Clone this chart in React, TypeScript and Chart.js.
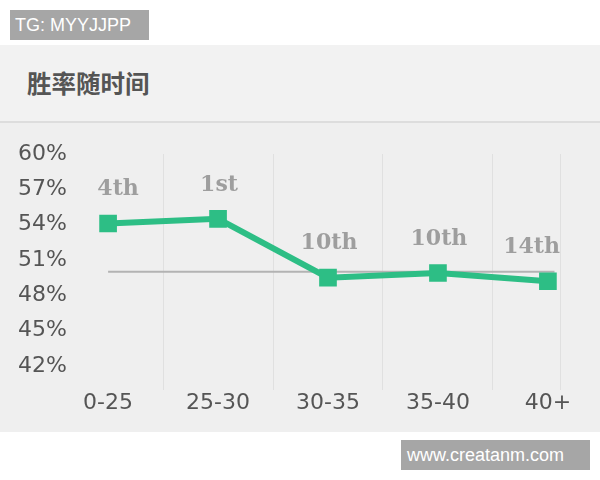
import { useEffect, useRef } from "react"
import { Chart, registerables } from "chart.js"

Chart.register(...registerables)

const categories = ["0-25", "25-30", "30-35", "35-40", "40+"]
const winRates = [54.1, 54.5, 49.5, 49.9, 49.2]
const rankLabels = ["4th", "1st", "10th", "10th", "14th"]
const yTicks = [42, 45, 48, 51, 54, 57, 60]
const refValue = 50
const refSpan = [0, 4.06]
const xGridAt = [0.5, 1.5, 2.5, 3.5]

const GREEN = "#2dbe85"

// draws the rank text above each point
const rankPlugin = {
  id: "rankLabels",
  afterDatasetsDraw(chart: Chart) {
    const meta = chart.getDatasetMeta(0)
    const ctx = chart.ctx
    const area = chart.chartArea
    ctx.save()
    ctx.font = "bold 22px 'DejaVu Serif'"
    ctx.fillStyle = "#9e9e9e"
    ctx.textAlign = "center"
    ctx.textBaseline = "middle"
    meta.data.forEach((pt, i) => {
      const text = rankLabels[i]
      const w = ctx.measureText(text).width
      const x = Math.min(pt.x + (i === 0 ? 10 : 1), area.right - w / 2)
      ctx.fillText(text, x, pt.y - 34)
    })
    ctx.restore()
  },
}

function WinRateChart() {
  const chartRef = useRef<HTMLCanvasElement>(null)
  const chartInstance = useRef<Chart | null>(null)

  useEffect(() => {
    if (!chartRef.current) return
    if (chartInstance.current) chartInstance.current.destroy()

    const ctx = chartRef.current.getContext("2d")
    if (!ctx) return

    chartInstance.current = new Chart(ctx, {
      type: "line",
      data: {
        datasets: [
          {
            label: "胜率",
            data: winRates.map((v, i) => ({ x: i, y: v })),
            borderColor: GREEN,
            backgroundColor: GREEN,
            borderWidth: 6,
            pointStyle: "rect",
            pointRadius: 12.5,
            pointBorderWidth: 0,
            tension: 0,
            order: 1,
          },
          {
            label: "avg",
            data: refSpan.map((x) => ({ x, y: refValue })),
            borderColor: "#b3b3b3",
            borderWidth: 2,
            pointRadius: 0,
            order: 2,
          },
        ],
      },
      options: {
        responsive: false,
        animation: false,
        layout: { padding: { top: 31, left: 17, right: 40, bottom: 16 } },
        plugins: {
          legend: { display: false },
          tooltip: { enabled: false },
        },
        scales: {
          x: {
            type: "linear",
            min: -0.31,
            max: 4.11,
            afterBuildTicks: (scale) => {
              const vals = [...categories.map((_, i) => i), ...xGridAt, 4.11].sort((a, b) => a - b)
              scale.ticks = vals.map((value) => ({ value }))
            },
            grid: {
              display: true,
              drawTicks: false,
              lineWidth: 1,
              color: (c) => (Number.isInteger(c.tick?.value) ? "transparent" : "#e0e0e0"),
            },
            border: { display: false },
            ticks: {
              autoSkip: false,
              maxRotation: 0,
              padding: 0,
              color: "#555",
              font: { family: "'DejaVu Sans'", size: 22 },
              callback: (value) => {
                const v = Number(value)
                return Number.isInteger(v) ? categories[v] : ""
              },
            },
          },
          y: {
            min: 40,
            max: 60,
            afterBuildTicks: (scale) => {
              scale.ticks = yTicks.map((value) => ({ value }))
            },
            afterFit: (scale) => {
              scale.width = 57
            },
            grid: { display: false, drawTicks: false },
            border: { display: false },
            ticks: {
              padding: 7,
              color: "#555",
              font: { family: "'DejaVu Sans'", size: 22 },
              callback: (value) => `${value}%`,
            },
          },
        },
      },
      plugins: [rankPlugin],
    })

    return () => {
      if (chartInstance.current) {
        chartInstance.current.destroy()
        chartInstance.current = null
      }
    }
  }, [])

  return <canvas ref={chartRef} width={600} height={309} style={{ display: "block" }} />
}

export default function App() {
  return (
    <div
      style={{
        position: "fixed",
        top: 0,
        left: 0,
        width: 600,
        height: 480,
        background: "#fff",
        overflow: "hidden",
      }}
    >
      <div
        style={{
          position: "absolute",
          left: 10,
          top: 10,
          width: 139,
          height: 30,
          background: "#a6a6a6",
          color: "#fff",
          font: "18px 'Liberation Sans', Arial, sans-serif",
          lineHeight: "30px",
          paddingLeft: 5,
          boxSizing: "border-box",
        }}
      >
        TG: MYYJJPP
      </div>
      <div
        style={{
          position: "absolute",
          left: 0,
          top: 45,
          width: 600,
          height: 76,
          background: "#f2f2f2",
          borderBottom: "2px solid #dddddd",
        }}
      >
        <div
          style={{
            position: "absolute",
            left: 27,
            top: 23,
            font: "bold 24.5px 'Noto Sans CJK SC', sans-serif",
            color: "#555",
            lineHeight: "30px",
          }}
        >
          胜率随时间
        </div>
      </div>
      <div
        style={{
          position: "absolute",
          left: 0,
          top: 123,
          width: 600,
          height: 309,
          background: "#efefef",
        }}
      >
        <WinRateChart />
      </div>
      <div
        style={{
          position: "absolute",
          left: 401,
          top: 440,
          width: 189,
          height: 30,
          background: "#a6a6a6",
          color: "#fff",
          font: "18px 'Liberation Sans', Arial, sans-serif",
          lineHeight: "30px",
          paddingLeft: 6,
          boxSizing: "border-box",
        }}
      >
        www.creatanm.com
      </div>
    </div>
  )
}
